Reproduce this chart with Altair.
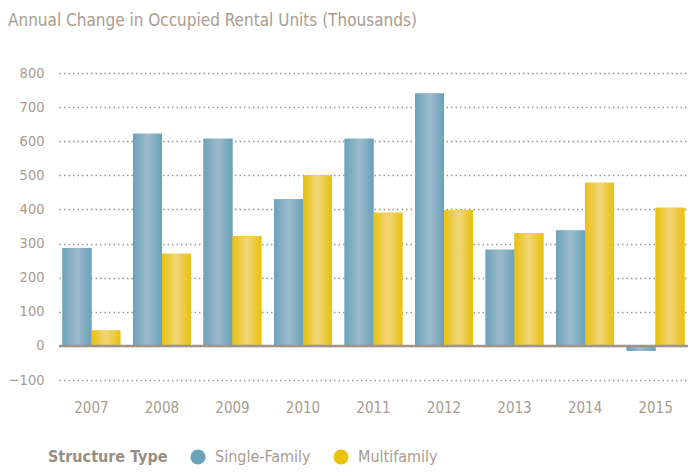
import altair as alt
import pandas as pd

years = ["2007", "2008", "2009", "2010", "2011", "2012", "2013", "2014", "2015"]
single_family = [287, 622, 607, 430, 607, 740, 282, 338, -15]
multifamily = [45, 270, 322, 500, 390, 398, 330, 478, 405]
series_names = ["Single-Family", "Multifamily"]
y_ticks = [-100, 0, 100, 200, 300, 400, 500, 600, 700, 800]

rows = []
for i, yr in enumerate(years):
    rows.append({"year": yr, "series": series_names[0], "value": single_family[i]})
    rows.append({"year": yr, "series": series_names[1], "value": multifamily[i]})
df = pd.DataFrame(rows)

TEXT = "#a89c90"
FONT = "DejaVu Sans Condensed, Roboto, sans-serif"

x = alt.X(
    "year:N", sort=years,
    scale=alt.Scale(paddingInner=0.18, paddingOuter=0.05),
    axis=alt.Axis(title=None, labelAngle=0, domain=False, ticks=False, grid=False,
                  labelPadding=20, labelFontSize=15, labelColor=TEXT, labelFont=FONT),
)
y_axis = alt.Axis(title=None, values=y_ticks, domain=False, ticks=False, labelPadding=15,
                  grid=True, gridDash=[1.5, 3], gridColor="#9e9286", gridWidth=1.5,
                  labelFontSize=14.5, labelColor=TEXT, labelFont=FONT)
y_scale = alt.Scale(domain=[-100, 800], nice=False, zero=False)
y = alt.Y("value:Q", scale=y_scale, axis=y_axis)
xo = alt.XOffset("series:N", sort=series_names, scale=alt.Scale(domain=series_names))
color = alt.Color(
    "series:N",
    scale=alt.Scale(domain=series_names, range=["#6ba3bb", "#e9c30c"]),
    sort=series_names,
    legend=alt.Legend(
        title="Structure Type", orient="none", legendX=-11, legendY=376,
        direction="horizontal", titleOrient="left", titleFontSize=16,
        titleFontWeight="bold", titleColor="#9a8e82", titleFont=FONT,
        titlePadding=22, labelFontSize=16, labelColor=TEXT, labelFont=FONT,
        symbolType="circle", symbolSize=230, symbolStrokeWidth=0,
        columnPadding=22, labelOffset=9,
    ),
)


def grad(edge, mid):
    return alt.Gradient(
        gradient="linear", x1=0, x2=1, y1=0, y2=0,
        stops=[alt.GradientStop(offset=0, color=edge),
               alt.GradientStop(offset=0.5, color=mid),
               alt.GradientStop(offset=1, color=edge)],
    )


base = alt.Chart(df)
bars = base.mark_bar().encode(x=x, y=y, xOffset=xo, color=color)
grad_sf = base.transform_filter(alt.datum.series == "Single-Family").mark_bar(
    fill=grad("#6aa2b9", "#9dbacb")
).encode(x=x, y=y, xOffset=xo)
grad_mf = base.transform_filter(alt.datum.series == "Multifamily").mark_bar(
    fill=grad("#e8c10e", "#f1d57a")
).encode(x=x, y=y, xOffset=xo)

zero = alt.Chart(pd.DataFrame({"value": [0]})).mark_rule(
    color="#9e948a", strokeWidth=2.5
).encode(y=alt.Y("value:Q", scale=y_scale, axis=y_axis))

chart = alt.layer(bars, grad_sf, grad_mf, zero).properties(
    width=629, height=307,
    autosize=alt.AutoSizeParams(type="none"),
    padding={"left": 51, "top": 65, "right": 0, "bottom": 88},
    background="white",
    title=alt.TitleParams(
        "Annual Change in Occupied Rental Units (Thousands)",
        anchor="start", frame="group", dx=-51, offset=35,
        fontSize=17, fontWeight="normal", color=TEXT, font=FONT,
    ),
).configure_view(stroke=None)

chart.save("out.html", embed_options={"renderer": "svg", "actions": False})
